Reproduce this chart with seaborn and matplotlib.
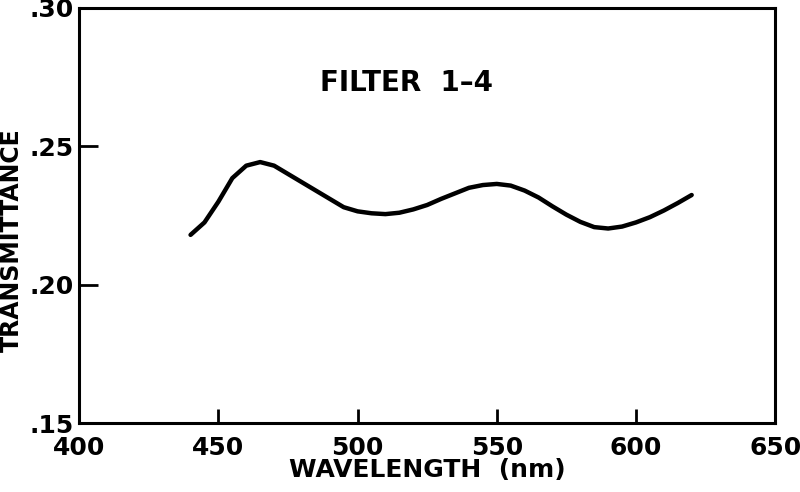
import pandas as pd
import matplotlib
matplotlib.use("Agg")
import matplotlib.pyplot as plt
import seaborn as sns

# values
wavelength = [440, 445, 450, 455, 460, 465, 470, 475, 480, 485, 490, 495,
              500, 505, 510, 515, 520, 525, 530, 535, 540, 545, 550, 555,
              560, 565, 570, 575, 580, 585, 590, 595, 600, 605, 610, 615, 620]
transmittance = [0.2180, 0.2225, 0.2300, 0.2385, 0.2430, 0.2443, 0.2430,
                 0.2400, 0.2370, 0.2340, 0.2310, 0.2280, 0.2265, 0.2258,
                 0.2255, 0.2260, 0.2272, 0.2288, 0.2310, 0.2330, 0.2350,
                 0.2360, 0.2364, 0.2358, 0.2340, 0.2315, 0.2283, 0.2253,
                 0.2227, 0.2208, 0.2203, 0.2210, 0.2225, 0.2244, 0.2268,
                 0.2295, 0.2324]

x_ticks = [400, 450, 500, 550, 600, 650]
x_labels = ["400", "450", "500", "550", "600", "650"]
y_ticks = [0.15, 0.20, 0.25, 0.30]
y_labels = [".15", ".20", ".25", ".30"]

df = pd.DataFrame({"wavelength": wavelength, "transmittance": transmittance})

sns.set_style("ticks")
plt.rcParams["font.family"] = ["DejaVu Sans"]
plt.rcParams["text.color"] = "black"
plt.rcParams["axes.labelcolor"] = "black"

fig = plt.figure(figsize=(8, 4.92), dpi=100)
ax = fig.add_axes([0.099, 0.140, 0.870, 0.844])

sns.lineplot(df, x="wavelength", y="transmittance", color="black",
             linewidth=3.2, ax=ax)
ax.lines[0].set_solid_joinstyle("round")
ax.lines[0].set_solid_capstyle("round")

ax.set_xlim(400, 650)
ax.set_ylim(0.15, 0.30)
ax.set_xticks(x_ticks)
ax.set_xticklabels(x_labels)
ax.set_yticks(y_ticks)
ax.set_yticklabels(y_labels)
ax.tick_params(direction="in", length=10, width=2, labelsize=18,
               colors="black")
ax.tick_params(axis="x", pad=9)
ax.tick_params(axis="y", length=14, pad=4)
for lab in ax.get_xticklabels() + ax.get_yticklabels():
    lab.set_fontweight("bold")
for s in ax.spines.values():
    s.set_linewidth(2.2)
    s.set_color("black")

ax.set_xlabel("WAVELENGTH  (nm)", fontsize=18, fontweight="bold", labelpad=-1)
ax.set_ylabel("TRANSMITTANCE", fontsize=17, fontweight="bold")
ax.yaxis.set_label_coords(-0.079, 0.44)

ax.text(517.5, 0.2728, "FILTER  1\u20134", fontsize=20, fontweight="bold",
        ha="center", va="center")

fig.savefig("out.png", dpi=100)
